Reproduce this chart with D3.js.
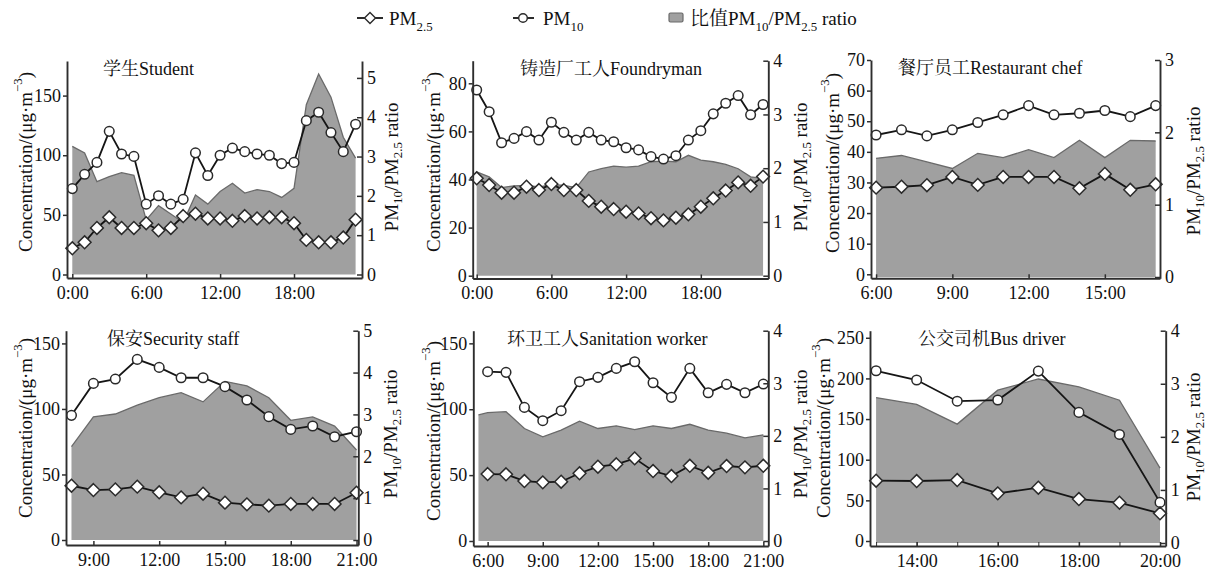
<!DOCTYPE html>
<html><head><meta charset="utf-8">
<script src="https://cdn.jsdelivr.net/npm/d3@7"></script>
<style>
body{margin:0;background:#fff;}
svg text{font-family:"Liberation Serif",Tinos,"Times New Roman",Times,"DejaVu Serif","Noto Serif","Noto Serif CJK SC","Noto Sans CJK SC",serif;fill:#111;}
</style></head><body>
<svg id="c" width="1206" height="572"></svg>
<script>
// ---------------- DATA ----------------
const studentHours = [0,1,2,3,4,5,6,7,8,9,10,11,12,13,14,15,16,17,18,19,20,21,22,23];
const studentPM25  = [22,27,39,48,39,39,43,37,39,49,51,47,47,45,49,47,48,48,43,29,27,27,31,46];
const studentPM10  = [72,84,94,120,101,99,59,66,59,63,102,83,100,106,103,101,100,93,94,129,136,119,103,126];
const studentRatioHours = studentHours;
const studentRatio = [3.26,3.09,2.36,2.49,2.59,2.52,1.39,1.75,1.54,1.32,2.02,1.79,2.11,2.32,2.07,2.16,2.11,1.96,2.19,4.32,5.10,4.51,3.49,2.96];

const foundryHours = [0,1,2,3,4,5,6,7,8,9,10,11,12,13,14,15,16,17,18,19,20,21,22,23];
const foundryPM25  = [40.5,37.7,34.5,34.5,37,35.6,38.1,35.6,35.6,31.1,28.7,27.7,26.6,25.9,23.9,23,24.1,25.5,28.7,32.2,35.4,38.8,37.4,41.2];
const foundryPM10  = [77.2,68.2,55.3,57.1,59.9,56.4,63.8,59.6,56.4,59.6,56.4,55.7,53.2,52.3,49.5,48.5,49.9,56.4,60.3,67.3,71.7,74.9,66.9,71.2];
const foundryRatioHours = foundryHours;
const foundryRatio = [1.93,1.84,1.64,1.67,1.68,1.65,1.70,1.68,1.64,1.93,1.99,2.04,2.02,2.04,2.12,2.13,2.12,2.24,2.15,2.12,2.07,1.99,1.84,1.81];

const chefHours = [6,7,8,9,10,11,12,13,14,15,16,17];
const chefPM25  = [28.3,28.6,29.1,31.8,29.2,31.8,31.8,31.8,28.1,32.8,27.6,29.4];
const chefPM10  = [45.5,47.2,45.2,47.2,49.6,52.1,55.1,52.1,52.6,53.5,51.5,55.1];
const chefRatioHours = chefHours;
const chefRatio = [1.64,1.68,1.59,1.50,1.71,1.65,1.76,1.65,1.89,1.65,1.89,1.88];

const securityHours = [8,9,10,11,12,13,14,15,16,17,18,19,20,21];
const securityPM25  = [41.4,38.1,38.6,40.7,36.4,32.5,35.3,28.5,27.2,26.2,27.5,27.5,27.5,36.1];
const securityPM10  = [95.1,119.5,122.8,137.8,131.7,123.8,123.8,117,106.8,94.1,84.4,87,78.8,82.6];
const securityRatioHours = securityHours;
const securityRatio = [2.23,2.94,3.01,3.22,3.40,3.52,3.30,3.79,3.68,3.40,2.86,2.94,2.72,2.15];

const sanitHours = [6,7,8,9,10,11,12,13,14,15,16,17,18,19,20,21];
const sanitPM25  = [50.8,50.6,45.5,44.5,45,51.4,56.4,58.2,62.7,53.1,49.3,57.1,51.8,56.9,55.9,57.1];
const sanitPM10  = [128.5,128,101.4,91.3,98.9,120.9,124.2,131,136,120.1,109,131,112.5,118.9,112.5,119.1];
const sanitRatioHours = [5.5,6,7,8,9,10,11,12,13,14,15,16,17,18,19,20,21];
const sanitRatio = [2.40,2.44,2.46,2.14,1.98,2.11,2.28,2.14,2.19,2.12,2.19,2.14,2.22,2.11,2.05,1.96,2.02];

const busHours = [13,14,15,16,17,18,19,20];
const busPM25  = [74.2,73.8,75,58.6,65.6,51.6,47.1,34];
const busPM10  = [209.4,198,172,173.4,209,158.2,131.1,47.5];
const busRatioHours = busHours;
const busRatio = [2.74,2.61,2.24,2.88,3.09,2.94,2.69,1.41];

// tick labels
const studentXTicks = [0,6,12,18];   const studentYTicks = [0,50,100,150]; const studentRTicks = [0,1,2,3,4,5];
const foundryXTicks = [0,6,12,18];   const foundryYTicks = [0,20,40,60,80]; const foundryRTicks = [0,1,2,3,4];
const chefXTicks = [6,9,12,15];      const chefYTicks = [0,10,20,30,40,50,60,70]; const chefRTicks = [0,1,2,3];
const securityXTicks = [9,12,15,18,21]; const securityYTicks = [0,50,100,150]; const securityRTicks = [0,1,2,3,4,5];
const sanitXTicks = [6,9,12,15,18,21];  const sanitYTicks = [0,50,100,150]; const sanitRTicks = [0,1,2,3,4];
const busXTicks = [14,16,18,20];     const busYTicks = [0,50,100,150,200,250]; const busRTicks = [0,1,2,3,4];
const busMinorTicks = [13,14,15,16,17,18,19,20];

const titles = ["学生Student","铸造厂工人Foundryman","餐厅员工Restaurant chef","保安Security staff","环卫工人Sanitation worker","公交司机Bus driver"];

// ---------------- LAYOUT ----------------
const layouts = [
  {left:67, right:362, top:61, zeroL:274.5, zeroR:274.5, bottom:278, lMax:179, rMax:5.43, xMin:-0.43, xMax:23.52,
   tx:103, ty:75, ylx:25, yly:162, rlx:391, rly:167},
  {left:472.7, right:768.3, top:60.7, zeroL:275.7, zeroR:275.7, bottom:278.5, lMax:89.4, rMax:4, xMin:-0.32, xMax:23.42,
   tx:520, ty:75, ylx:433, yly:162, rlx:800, rly:167},
  {left:871, right:1160, top:60, zeroL:274.3, zeroR:277, bottom:278.3, lMax:70, rMax:3, xMin:5.8, xMax:17.17,
   tx:898, ty:74, ylx:832, yly:163, rlx:1193, rly:171},
  {left:66, right:358.3, top:330.7, zeroL:540, zeroR:540, bottom:545, lMax:159.7, rMax:5, xMin:7.75, xMax:21.08,
   tx:107, ty:345, ylx:25, yly:428, rlx:390, rly:434},
  {left:473.3, right:768.3, top:330.7, zeroL:541, zeroR:541, bottom:546, lMax:159.6, rMax:4, xMin:5.22, xMax:21.27,
   tx:507, ty:345, ylx:433, yly:431, rlx:800, rly:434},
  {left:870, right:1165.7, top:330.7, zeroL:541, zeroR:543, bottom:546, lMax:258.7, rMax:4, xMin:12.85, xMax:20.14,
   tx:918, ty:345, ylx:823, yly:428, rlx:1193, rly:437}
];

const panelData = [
  {hours:studentHours, pm25:studentPM25, pm10:studentPM10, rh:studentRatioHours, ratio:studentRatio, xt:studentXTicks, yt:studentYTicks, rt:studentRTicks},
  {hours:foundryHours, pm25:foundryPM25, pm10:foundryPM10, rh:foundryRatioHours, ratio:foundryRatio, xt:foundryXTicks, yt:foundryYTicks, rt:foundryRTicks},
  {hours:chefHours, pm25:chefPM25, pm10:chefPM10, rh:chefRatioHours, ratio:chefRatio, xt:chefXTicks, yt:chefYTicks, rt:chefRTicks},
  {hours:securityHours, pm25:securityPM25, pm10:securityPM10, rh:securityRatioHours, ratio:securityRatio, xt:securityXTicks, yt:securityYTicks, rt:securityRTicks},
  {hours:sanitHours, pm25:sanitPM25, pm10:sanitPM10, rh:sanitRatioHours, ratio:sanitRatio, xt:sanitXTicks, yt:sanitYTicks, rt:sanitRTicks},
  {hours:busHours, pm25:busPM25, pm10:busPM10, rh:busRatioHours, ratio:busRatio, xt:busXTicks, yt:busYTicks, rt:busRTicks, minor:busMinorTicks}
];

// ---------------- STYLE ----------------
const AREA_FILL = "#a0a0a0", AREA_EDGE = "#6a6a6a", LINE = "#151515", AXIS = "#2e2e2e", MARK = "#2a2a2a";
const TICK_FS = 18, LABEL_FS = 19, TITLE_FS = 18;

const svg = d3.select("#c");

function rich(textSel, parts, fs) {
  let off = 0;
  parts.forEach(([t, k]) => {
    const target = k === "sub" ? fs * 0.32 : k === "sup" ? -fs * 0.42 : 0;
    textSel.append("tspan").attr("dy", target - off).attr("font-size", k === "n" ? fs : fs * 0.68).text(t);
    off = target;
  });
}
const diamondPath = r => `M0,${-r}L${r},0L0,${r}L${-r},0Z`;

panelData.forEach((p, i) => {
  const L = layouts[i];
  const g = svg.append("g");
  const x = d3.scaleLinear().domain([L.xMin, L.xMax]).range([L.left, L.right]);
  const yL = d3.scaleLinear().domain([0, L.lMax]).range([L.zeroL, L.top]);
  const yR = d3.scaleLinear().domain([0, L.rMax]).range([L.zeroR, L.top]);

  // ratio area
  const rData = p.rh.map((h, j) => ({h, v: p.ratio[j]}));
  g.append("path").datum(rData)
    .attr("d", d3.area().x(d => x(d.h)).y0(yR(0)).y1(d => yR(d.v)))
    .attr("fill", AREA_FILL);
  g.append("path").datum(rData)
    .attr("d", d3.line().x(d => x(d.h)).y(d => yR(d.v)))
    .attr("fill", "none").attr("stroke", AREA_EDGE).attr("stroke-width", 1.3);

  const d10 = p.hours.map((h, j) => ({h, v: p.pm10[j]}));
  const d25 = p.hours.map((h, j) => ({h, v: p.pm25[j]}));
  const ln = d3.line().x(d => x(d.h)).y(d => yL(d.v));
  g.append("path").datum(d10).attr("d", ln).attr("fill", "none").attr("stroke", LINE).attr("stroke-width", 1.8);
  g.append("path").datum(d25).attr("d", ln).attr("fill", "none").attr("stroke", LINE).attr("stroke-width", 1.8);

  g.selectAll(".c10").data(d10).join("circle")
    .attr("cx", d => x(d.h)).attr("cy", d => yL(d.v)).attr("r", 4.8)
    .attr("fill", "#fff").attr("stroke", MARK).attr("stroke-width", 1.5);
  g.selectAll(".d25").data(d25).join("path")
    .attr("transform", d => `translate(${x(d.h)},${yL(d.v)})`)
    .attr("d", diamondPath(6.4))
    .attr("fill", "#fff").attr("stroke", MARK).attr("stroke-width", 1.5);

  // axes
  const yLaxis = d3.scaleLinear().domain([yL.invert(L.bottom), L.lMax]).range([L.bottom, L.top]);
  const yRaxis = d3.scaleLinear().domain([yR.invert(L.bottom), L.rMax]).range([L.bottom, L.top]);
  const ax = g.append("g").attr("transform", `translate(${L.left},0)`)
    .call(d3.axisLeft(yLaxis).tickValues(p.yt).tickSize(4).tickSizeOuter(0).tickPadding(2).tickFormat(d3.format("d")));
  const ar = g.append("g").attr("transform", `translate(${L.right},0)`)
    .call(d3.axisRight(yRaxis).tickValues(p.rt).tickSize(-5).tickSizeOuter(0).tickPadding(5).tickFormat(d3.format("d")));
  const xb = g.append("g").attr("transform", `translate(0,${L.bottom})`)
    .call(d3.axisBottom(x).tickValues(p.xt).tickSize(-4).tickSizeOuter(0).tickPadding(8).tickFormat(h => `${h}:00`));
  if (p.minor) {
    g.append("g").attr("transform", `translate(0,${L.bottom})`)
      .call(d3.axisBottom(x).tickValues(p.minor).tickSize(-4).tickSizeOuter(0).tickFormat(""))
      .select(".domain").remove();
  }
  [ax, ar, xb].forEach(a => {
    a.attr("font-family", null).attr("font-size", null);
    a.select(".domain").attr("stroke", AXIS).attr("stroke-width", 1.9);
    a.selectAll(".tick line").attr("stroke", AXIS).attr("stroke-width", 1.5);
    a.selectAll(".tick text").attr("font-size", TICK_FS).attr("fill", "#111");
  });
  g.selectAll(".tick line").attr("stroke", AXIS);

  // title
  g.append("text").attr("x", L.tx).attr("y", L.ty).attr("font-size", TITLE_FS).text(titles[i]);

  // left label
  const t1 = g.append("text").attr("transform", `translate(${L.ylx},${L.yly}) rotate(-90)`)
    .attr("text-anchor", "middle").attr("dominant-baseline", "central");
  rich(t1, [["Concentration/(μg·m","n"],["−3","sup"],[")","n"]], LABEL_FS);
  // right label
  const t2 = g.append("text").attr("transform", `translate(${L.rlx},${L.rly}) rotate(-90)`)
    .attr("text-anchor", "middle").attr("dominant-baseline", "central");
  rich(t2, [["PM","n"],["10","sub"],["/PM","n"],["2.5","sub"],[" ratio","n"]], LABEL_FS);
});

// ---------------- LEGEND ----------------
const lg = svg.append("g");
lg.append("line").attr("x1", 357).attr("x2", 383).attr("y1", 18).attr("y2", 18).attr("stroke", LINE).attr("stroke-width", 1.8);
lg.append("path").attr("transform", "translate(370,18)").attr("d", diamondPath(5.5)).attr("fill", "#fff").attr("stroke", MARK).attr("stroke-width", 1.4);
rich(lg.append("text").attr("x", 389).attr("y", 25), [["PM","n"],["2.5","sub"]], LABEL_FS);
lg.append("line").attr("x1", 513).attr("x2", 534).attr("y1", 18).attr("y2", 18).attr("stroke", LINE).attr("stroke-width", 1.8);
lg.append("circle").attr("cx", 523).attr("cy", 18).attr("r", 4.3).attr("fill", "#fff").attr("stroke", MARK).attr("stroke-width", 1.4);
rich(lg.append("text").attr("x", 543).attr("y", 25), [["PM","n"],["10","sub"]], LABEL_FS);
lg.append("rect").attr("x", 669).attr("y", 13).attr("width", 14).attr("height", 9).attr("rx", 1.5)
  .attr("fill", AREA_FILL).attr("stroke", AREA_EDGE).attr("stroke-width", 1.2);
rich(lg.append("text").attr("x", 690).attr("y", 25), [["比值PM","n"],["10","sub"],["/PM","n"],["2.5","sub"],[" ratio","n"]], LABEL_FS);
</script>
</body></html>
